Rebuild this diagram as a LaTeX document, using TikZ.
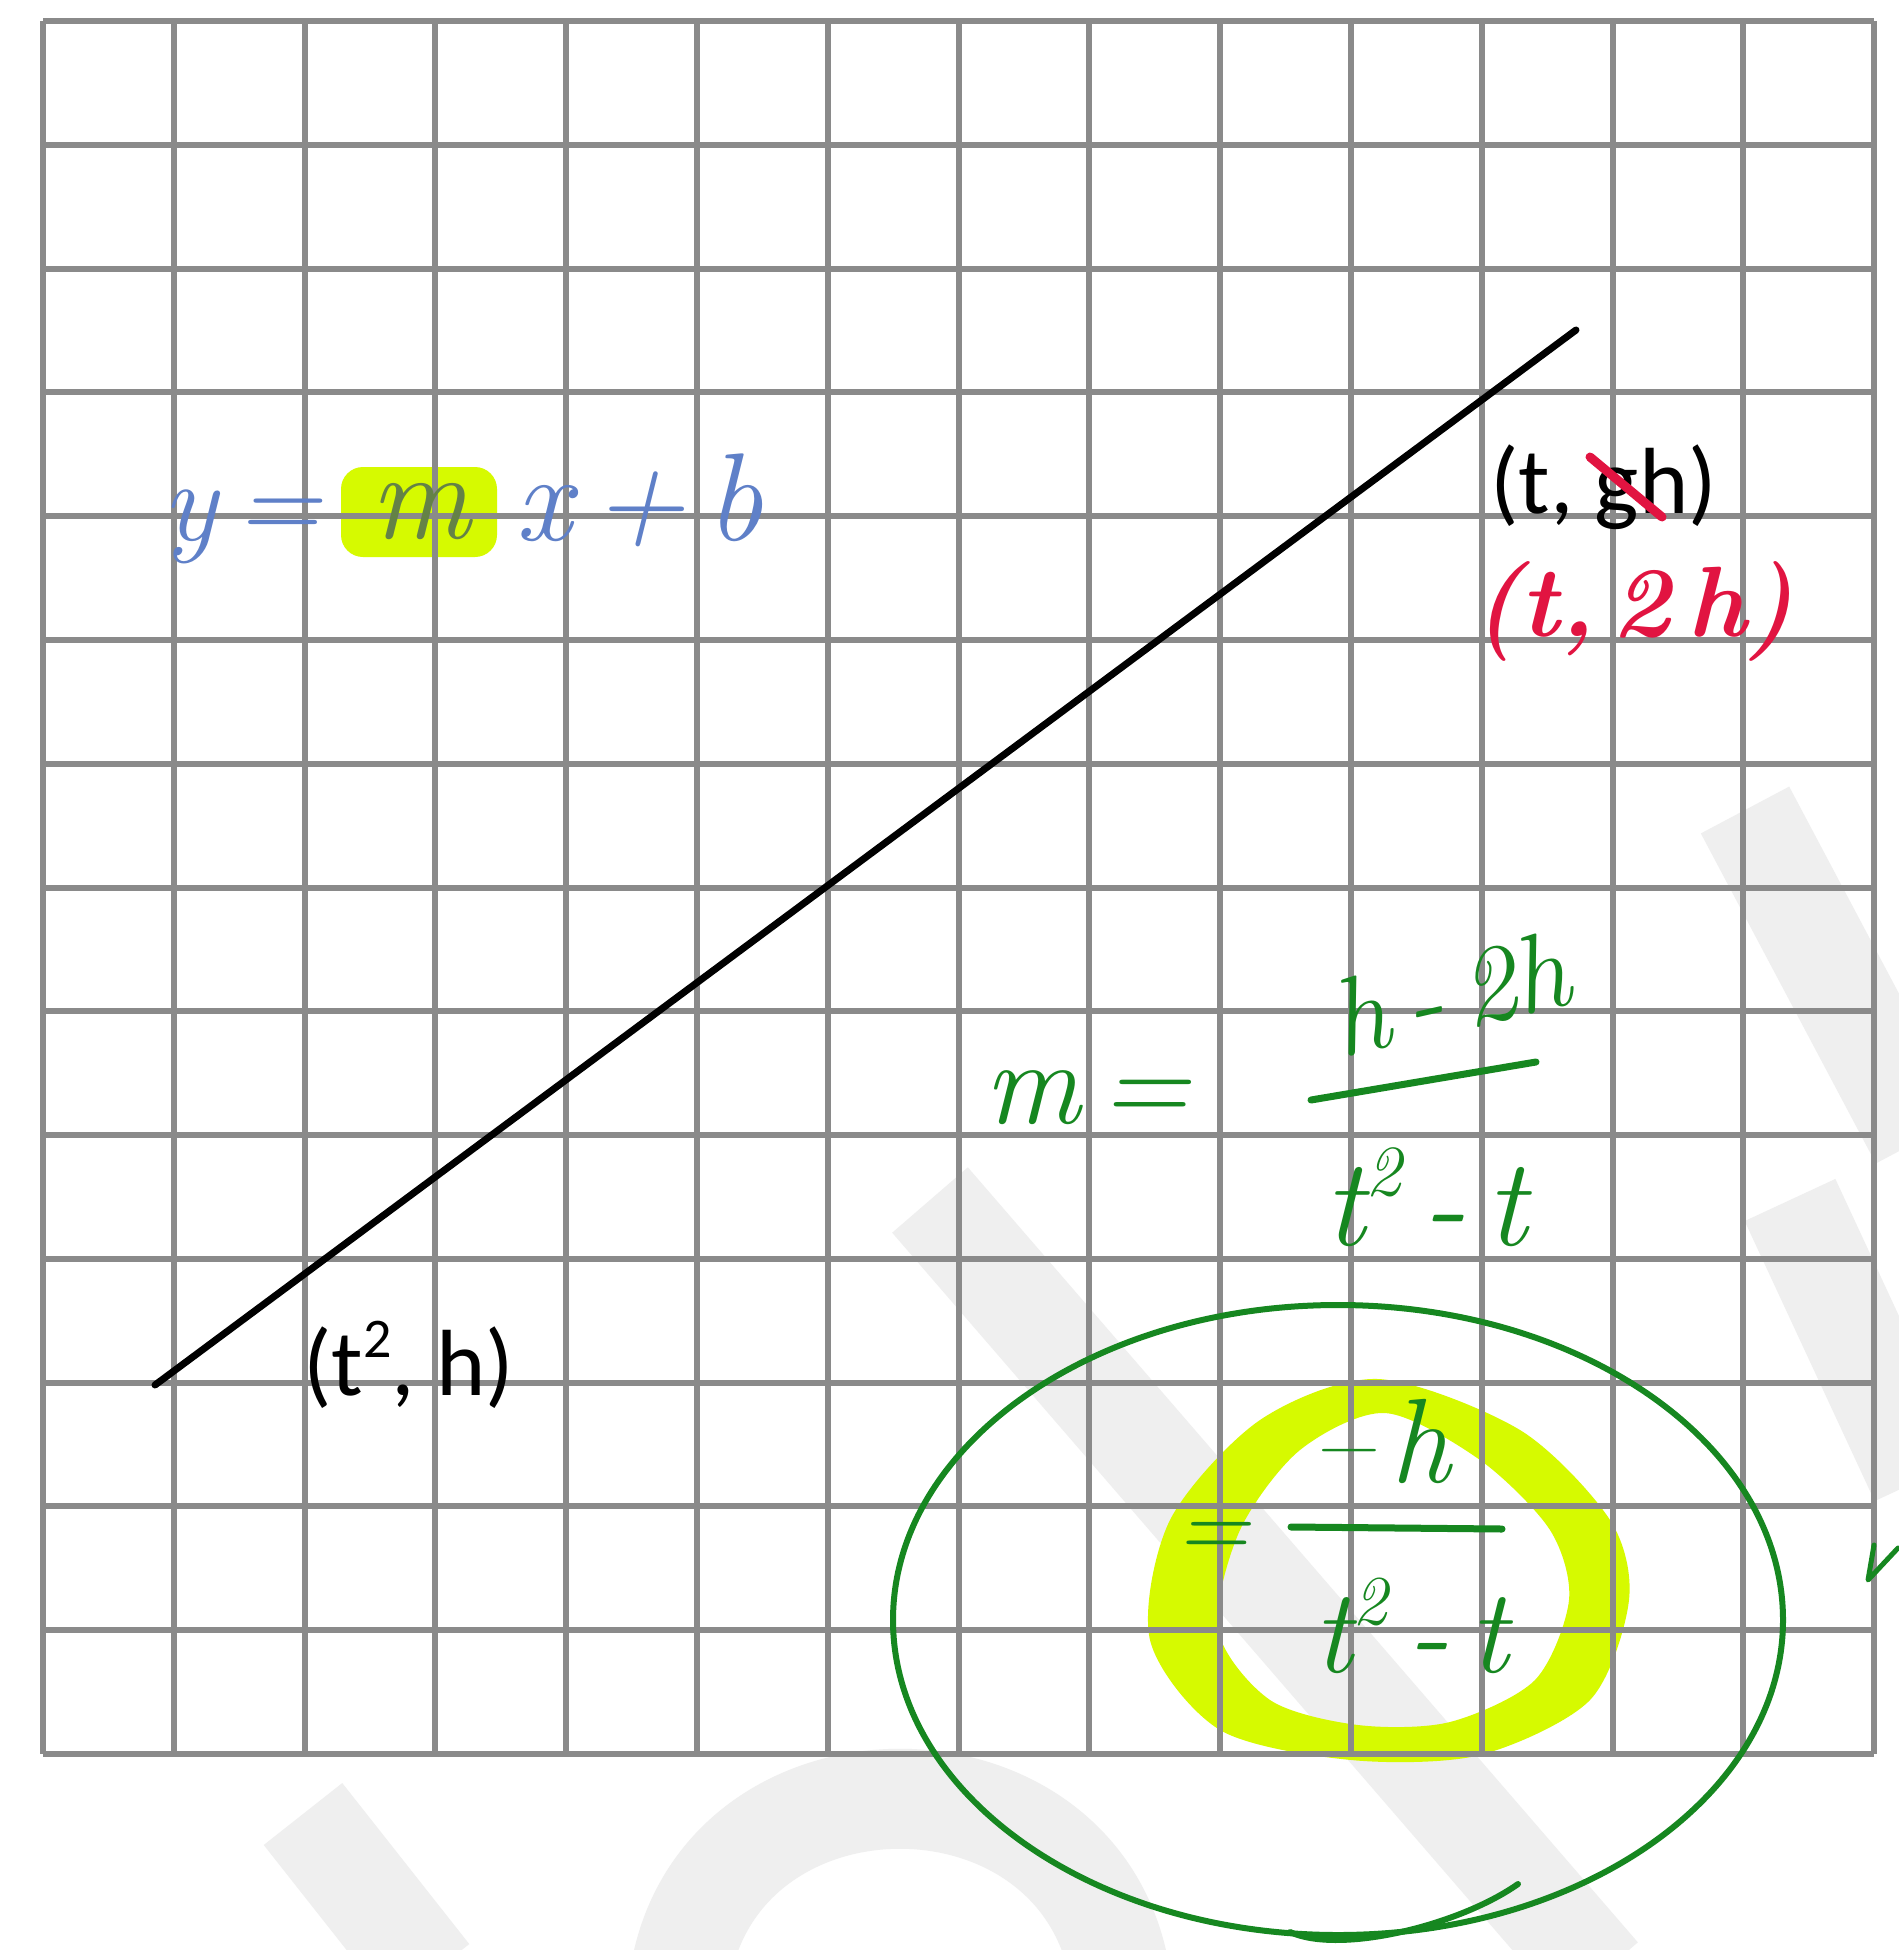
\documentclass[tikz,border=0pt]{standalone}
\usepackage{fontspec}
\newfontfamily\calib{Carlito}
\definecolor{gridc}{RGB}{138,138,138}
\definecolor{wm}{RGB}{239,239,239}
\definecolor{hl}{RGB}{214,250,0}
\definecolor{pen}{RGB}{22,135,32}
\definecolor{bluepen}{RGB}{95,128,200}
\definecolor{redpen}{RGB}{225,20,65}
\definecolor{mcol}{RGB}{100,130,70}
\newcommand\supsq[2]{\raisebox{#1}{\fontsize{#2}{#2}\selectfont 2}}
\begin{document}
\begin{tikzpicture}[x=1pt,y=-1pt,
  gridline/.style={draw=gridc, line width=6pt},
  wmband/.style={draw=wm, line width=100pt, line cap=butt},
  lbl/.style={font=\calib\fontsize{94}{94}\selectfont, inner sep=0pt, anchor=base west},
  hand/.style={inner sep=0pt, text=pen, font=\itshape\fontsize{#1}{#1}\selectfont},
  penline/.style={draw=pen, line width=7pt, line cap=round, line join=round}]
\useasboundingbox (0,0) rectangle (1898,1950);
\fill[white] (0,0) rectangle (1898,1950);
% watermark
\draw[wmband] (303,1814) -- (430,1975);
\draw[wmband] (680,1975) .. controls (720,1740) and (1080,1740) .. (1120,1975);
\draw[wmband] (930,1200) -- (1600,1975);
\draw[wmband] (1745,810) -- (1920,1140);
\draw[wmband] (1790,1200) -- (1920,1480);
% yellow ring
\fill[hl, even odd rule]
  plot[smooth cycle] coordinates {(1378,1379) (1520,1430) (1610,1520) (1629,1600) (1590,1700) (1480,1755) (1351,1760) (1220,1730) (1150,1640) (1170,1520) (1260,1420)}
  plot[smooth cycle] coordinates {(1385,1413) (1480,1460) (1550,1530) (1569,1600) (1535,1680) (1450,1722) (1358,1725) (1270,1700) (1218,1630) (1240,1530) (1300,1450)};
% highlight behind m
\fill[hl, rounded corners=22pt] (341,467) rectangle (497,557);
% grid
\foreach \i in {0,...,14} {
  \draw[gridline] ({43+130.79*\i},21) -- ({43+130.79*\i},1754);
  \draw[gridline] (43,{21+123.79*\i}) -- (1874,{21+123.79*\i});
}
% line
\coordinate (A) at (155,1385);
\coordinate (B) at (1576,330);
\draw[line width=7pt, line cap=round] (A) -- (B);
% printed labels
\node[lbl] (lA) at (303,1395) {(t\supsq{38pt}{56}, h)};
\node[lbl] (lB) at (1490,513) {(t, gh)};
\draw[redpen, line width=9pt, line cap=round] (1590,457) -- (1662,517);
% red correction
\node[inner sep=0pt, anchor=base west, text=redpen, font=\bfseries\itshape\fontsize{100}{100}\selectfont] (red) at (1473,636) {(t,\,2\,h)};
% blue equation
\node[inner sep=0pt, anchor=base west, text=bluepen, font=\itshape\fontsize{115}{115}\selectfont] (yeq) at (162,540) {y\,=};
\node[inner sep=0pt, anchor=base, text=mcol, font=\itshape\fontsize{125}{125}\selectfont] (mm) at (420,538) {m};
\node[inner sep=0pt, anchor=base west, text=bluepen, font=\itshape\fontsize{125}{125}\selectfont] (xb) at (515,540) {x\,+\,b};
% green slope
\node[hand=120, anchor=base west] (m1) at (984,1123) {m\,=};
\node[hand=110, rotate=13] (n1) at (1450,994) {h\,-\,2h};
\draw[penline] (1311,1100) -- (1536,1062);
\node[hand=125, anchor=base] (d1) at (1426,1245) {t\supsq{50pt}{72}\,-\,t};
% circled result
\node[hand=100, anchor=base] (eq2) at (1213,1558) {=};
\node[hand=120, anchor=base] (n2) at (1381,1482) {\textendash\,h};
\draw[penline] (1291,1527) -- (1502,1529);
\node[hand=120, anchor=base] (d2) at (1411,1672) {t\supsq{48pt}{70}\,-\,t};
\draw[draw=pen, line width=6pt] (1338,1620) ellipse [x radius=445, y radius=315];
\draw[penline, line width=6pt] (1290,1932) .. controls (1340,1955) and (1460,1925) .. (1518,1884);
\draw[penline, line width=5pt] (1874,1545) -- (1868,1580) -- (1898,1548);
\end{tikzpicture}
\end{document}
